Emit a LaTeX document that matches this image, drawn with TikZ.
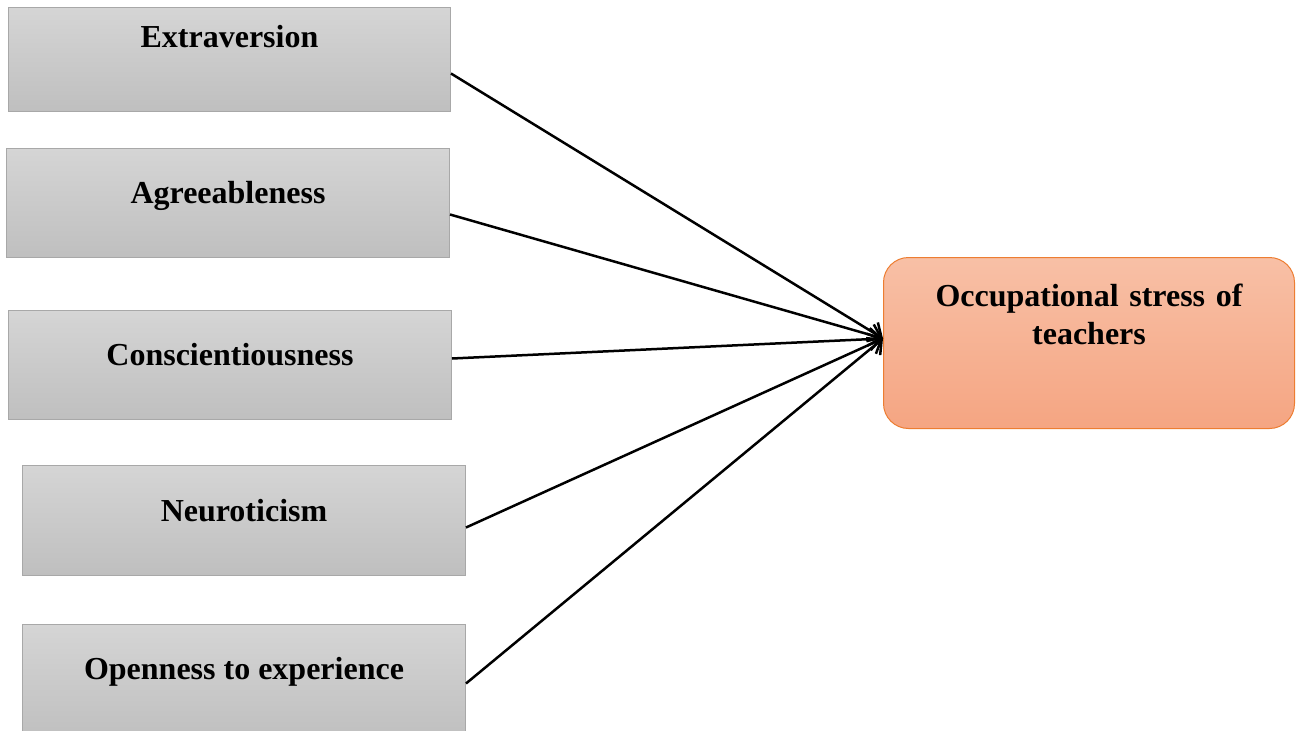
\documentclass[tikz,border=0pt]{standalone}
\usepackage{fontspec}
\setmainfont{Liberation Serif}
\usetikzlibrary{arrows.meta}
\definecolor{gtop}{RGB}{213,213,213}
\definecolor{gbot}{RGB}{191,191,191}
\definecolor{gline}{RGB}{168,168,168}
\definecolor{otop}{RGB}{248,192,166}
\definecolor{obot}{RGB}{245,165,130}
\definecolor{oline}{RGB}{237,125,49}
\tikzset{
  factor/.style={draw=gline, line width=1pt, top color=gtop, bottom color=gbot,
    rectangle, inner sep=0pt, minimum width=443pt, anchor=north west,
    font=\fontsize{32}{38}\selectfont\bfseries},
  outcome/.style={draw=oline, line width=1pt, top color=otop, bottom color=obot,
    rectangle, rounded corners=25pt, inner sep=0pt, text width=411pt, align=center,
    anchor=north west, font=\fontsize{32}{38}\selectfont\bfseries},
  link/.style={line width=2.5pt, -{Straight Barb[length=11pt,width=22pt,line width=2.5pt]}}
}
\begin{document}
\begin{tikzpicture}[x=1pt,y=-1pt]
\useasboundingbox[fill=white] (0,0) rectangle (1299,731);
\node[factor, text height=40pt, text depth=64pt, minimum width=442pt] (e) at (8,7) {Extraversion};
\node[factor, text height=55pt, text depth=54pt] (a) at (6,148) {Agreeableness};
\node[factor, text height=55pt, text depth=54pt] (c) at (8,310) {Conscientiousness};
\node[factor, text height=56pt, text depth=54pt] (n) at (22,465) {Neuroticism};
\node[factor, text height=55pt, text depth=60pt] (o) at (22,624) {Openness to experience};
\node[outcome, text height=49pt, text depth=122pt] (t) at (883,257) {Occupational stress of\\teachers};
\draw[link] ([yshift=-14pt]e.east) -- ([yshift=4.5pt]t.west);
\draw[link] ([yshift=-11.5pt]a.east) -- ([yshift=4.5pt]t.west);
\draw[link] ([yshift=6.5pt]c.east) -- ([yshift=4.5pt]t.west);
\draw[link] ([yshift=-7pt]n.east) -- ([yshift=4.5pt]t.west);
\draw[link] ([yshift=-1.5pt]o.east) -- ([yshift=4.5pt]t.west);
\end{tikzpicture}
\end{document}
